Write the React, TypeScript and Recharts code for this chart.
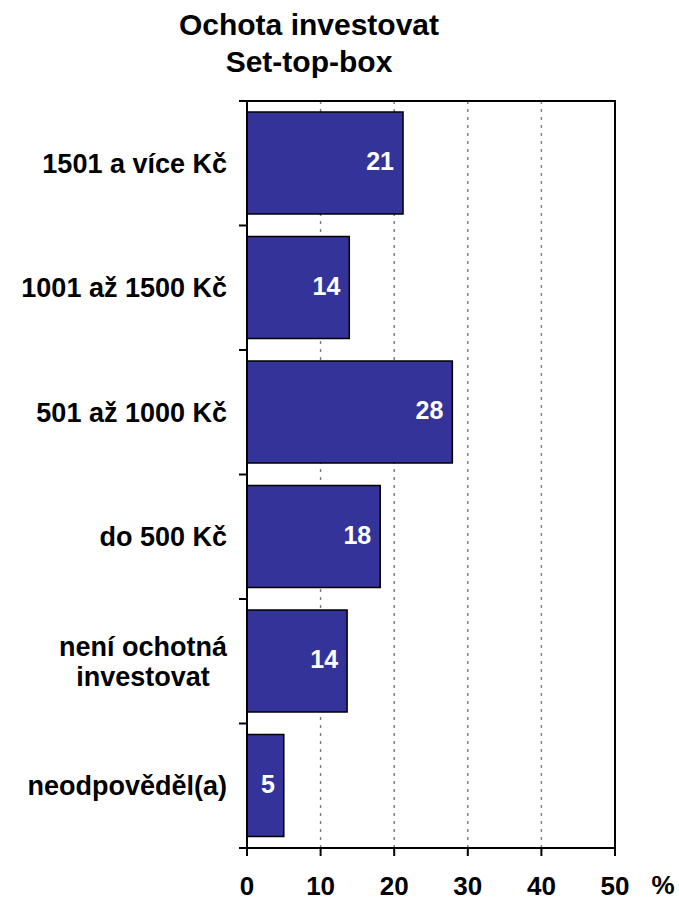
import React from "react";
import {
  BarChart,
  Bar,
  XAxis,
  YAxis,
  CartesianGrid,
  ReferenceArea,
  LabelList,
} from "recharts";

const categories = [
  "1501 a více Kč",
  "1001 až 1500 Kč",
  "501 až 1000 Kč",
  "do 500 Kč",
  "není ochotná\ninvestovat",
  "neodpověděl(a)",
];
const values = [21.2, 13.9, 27.9, 18.1, 13.6, 5.0];
const xTicks = [0, 10, 20, 30, 40, 50];

const data = categories.map((name, i) => ({ name, value: values[i] }));

const W = 679;
const H = 901;
const MARGIN = { top: 101, right: 64, bottom: 0, left: 7 };
const Y_AXIS_W = 240;
const X_AXIS_H = 53;
const PLOT_H = H - MARGIN.top - MARGIN.bottom - X_AXIS_H;
const BAND = PLOT_H / categories.length;
const FONT = "Arial, 'Liberation Sans', sans-serif";

let ctx: CanvasRenderingContext2D | null = null;
function textWidth(s: string, font: string) {
  if (!ctx) ctx = document.createElement("canvas").getContext("2d");
  if (!ctx) return s.length * 14;
  ctx.font = font;
  return ctx.measureText(s).width;
}

function CategoryTick(props: any) {
  const { x, y, payload, index } = props;
  const lines = String(payload.value).split("\n");
  const right = x - 20;
  const w = Math.max(...lines.map((l) => textWidth(l, `bold 27px ${FONT}`)));
  const cx = right - w / 2;
  const lh = 30;
  const top = y - ((lines.length - 1) * lh) / 2;
  return (
    <g>
      <line x1={x - 8} x2={x} y1={y - BAND / 2} y2={y - BAND / 2} stroke="#000" strokeWidth={2} />
      {index === categories.length - 1 && (
        <line x1={x - 8} x2={x} y1={y + BAND / 2} y2={y + BAND / 2} stroke="#000" strokeWidth={2} />
      )}
      <text textAnchor="middle" fontFamily={FONT} fontWeight="bold" fontSize={27} fill="#000">
        {lines.map((l, i) => (
          <tspan key={i} x={cx} y={top + i * lh + 9.7}>
            {l}
          </tspan>
        ))}
      </text>
    </g>
  );
}

function ValueTick(props: any) {
  const { x, y, payload } = props;
  const last = payload.value === xTicks[xTicks.length - 1];
  return (
    <g>
      <text x={x} y={y + 39} textAnchor="middle" fontFamily={FONT} fontWeight="bold" fontSize={26} fill="#000">
        {payload.value}
      </text>
      {last && (
        <text x={x + 48} y={y + 38} textAnchor="middle" fontFamily={FONT} fontWeight="bold" fontSize={26} fill="#000">
          %
        </text>
      )}
    </g>
  );
}

function BarValue(props: any) {
  const { x, y, width, height, value } = props;
  return (
    <text
      x={x + width - 9}
      y={y + height / 2 - 2 + 9}
      textAnchor="end"
      fill="#fff"
      fontFamily={FONT}
      fontWeight="bold"
      fontSize={25}
    >
      {Math.round(value)}
    </text>
  );
}

export default function App() {
  return (
    <div style={{ position: "absolute", left: 0, top: 0, width: W, height: H, background: "#fff" }}>
      <div
        style={{
          position: "absolute",
          left: 0,
          top: 7,
          width: 618,
          textAlign: "center",
          fontFamily: FONT,
          fontWeight: "bold",
          fontSize: 30,
          lineHeight: "36.5px",
          color: "#000",
        }}
      >
        Ochota investovat
        <br />
        Set-top-box
      </div>
      <BarChart width={W} height={H} data={data} layout="vertical" margin={MARGIN} barSize={102}>
        <CartesianGrid horizontal={false} stroke="#808080" strokeWidth={1.5} strokeDasharray="3 5" />
        <XAxis
          type="number"
          domain={[0, 50]}
          ticks={xTicks}
          interval={0}
          height={X_AXIS_H}
          axisLine={{ stroke: "#000", strokeWidth: 2 }}
          tickLine={{ stroke: "#000", strokeWidth: 2 }}
          tickSize={8}
          tickMargin={0}
          tick={<ValueTick />}
        />
        <YAxis
          type="category"
          dataKey="name"
          width={Y_AXIS_W}
          interval={0}
          axisLine={{ stroke: "#000", strokeWidth: 2 }}
          tickLine={false}
          tickSize={0}
          tickMargin={0}
          tick={<CategoryTick />}
        />
        <ReferenceArea x1={0} x2={50} fill="none" fillOpacity={0} stroke="#000" strokeWidth={2} ifOverflow="visible" />
        <Bar dataKey="value" fill="#333399" stroke="#000" strokeWidth={1.5} isAnimationActive={false}>
          <LabelList dataKey="value" content={<BarValue />} />
        </Bar>
      </BarChart>
    </div>
  );
}
